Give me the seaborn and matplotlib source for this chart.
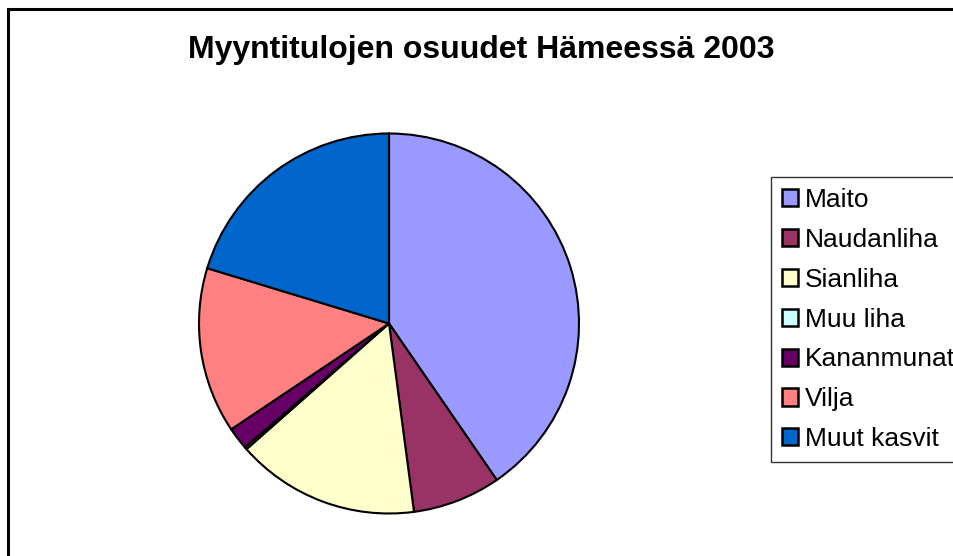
import matplotlib
matplotlib.use("Agg")
import matplotlib.pyplot as plt
from matplotlib.patches import Rectangle
import seaborn as sns

# Myyntitulojen osuudet (%) luettu kuvasta
labels = ["Maito", "Naudanliha", "Sianliha", "Muu liha", "Kananmunat", "Vilja", "Muut kasvit"]
shares = [40.4, 7.5, 15.6, 0.2, 1.9, 14.1, 20.3]
colors = ["#9999FF", "#993366", "#FFFFCC", "#CCFFFF", "#660066", "#FF8080", "#0066CC"]
title = "Myyntitulojen osuudet Hämeessä 2003"

sns.set_theme(style="white")
plt.rcParams['font.family'] = ['Liberation Sans', 'DejaVu Sans']
plt.rcParams['text.color'] = 'black'

W, H = 954, 556
fig = plt.figure(figsize=(W / 100, H / 100), dpi=100)

# outer chart frame (runs off the right and bottom edges)
fig.patches.append(Rectangle((8 / W, -0.1), 1.2, 1.1 - 9 / H, transform=fig.transFigure,
                             fill=False, edgecolor="black", linewidth=2.2))

cx, cy, r = 389, H - 323.5, 190
ax = fig.add_axes([(cx - r) / W, (cy - r) / H, 2 * r / W, 2 * r / H])
wedges, _ = ax.pie(shares, colors=colors, startangle=90, counterclock=False,
                   wedgeprops=dict(edgecolor="black", linewidth=1.5))
ax.set_xlim(-1, 1)
ax.set_ylim(-1, 1)
ax.set_aspect("equal")
ax.axis("off")

fig.text(481 / W, 1 - 50 / H, title, ha="center", va="center",
         fontsize=23, fontweight="bold", color="black")

leg = fig.legend(wedges, labels, loc="upper left", bbox_to_anchor=(771 / W, 1 - 177 / H),
                 fontsize=19, frameon=True, fancybox=False, handlelength=0.62,
                 handleheight=0.62, handletextpad=0.25, labelspacing=0.6,
                 borderpad=0.42, borderaxespad=0)
leg.get_frame().set_edgecolor("black")
leg.get_frame().set_linewidth(1)
for t in leg.get_texts():
    t.set_color("black")
for h in leg.legend_handles:
    h.set_linewidth(1.8)

fig.savefig("out.png", dpi=100)
